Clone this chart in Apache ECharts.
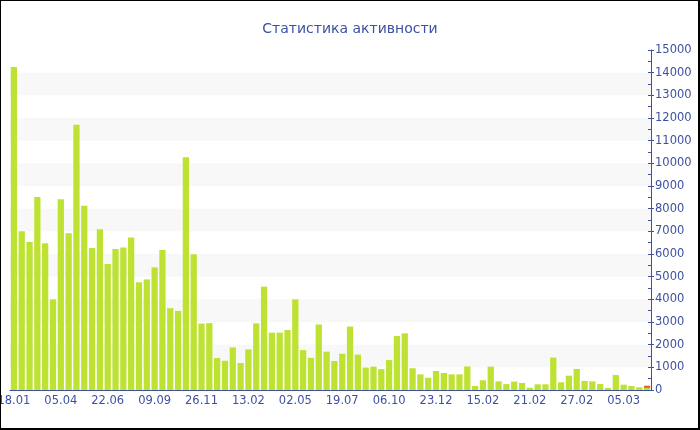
<!DOCTYPE html>
<html>
<head>
<meta charset="utf-8">
<script src="https://cdn.jsdelivr.net/npm/echarts@6/dist/echarts.min.js"></script>
<style>
html,body{margin:0;padding:0;background:#fff;}
#wrap{position:relative;width:700px;height:430px;}
#chart{position:absolute;left:0;top:0;width:700px;height:430px;}
#frame{position:absolute;left:0;top:0;width:700px;height:430px;box-sizing:border-box;border-style:solid;border-color:#000;border-width:1px 2px 2px 1px;pointer-events:none;}
</style>
</head>
<body>
<div id="wrap"><div id="chart"></div><div id="frame"></div></div>
<script>
const titleText = 'Статистика активности';
const categories = [
 '18.01','31.01','13.02','26.02','11.03','23.03','05.04','18.04','01.05','14.05',
 '27.05','09.06','22.06','05.07','18.07','31.07','13.08','27.08','09.09','22.09',
 '05.10','18.10','31.10','13.11','26.11','09.12','22.12','04.01','17.01','31.01',
 '13.02','26.02','11.03','24.03','06.04','19.04','02.05','15.05','28.05','10.06',
 '23.06','06.07','19.07','01.08','14.08','27.08','09.09','22.09','06.10','19.10',
 '01.11','14.11','27.11','10.12','23.12','01.01','10.01','19.01','28.01','06.02',
 '15.02','16.02','17.02','18.02','19.02','20.02','21.02','22.02','23.02','24.02',
 '25.02','26.02','27.02','28.02','01.03','02.03','03.03','04.03','05.03','06.03',
 '07.03','08.03'
];
const activity = [
 14250,7000,6530,8510,6470,4000,8410,6910,11700,8130,
 6270,7090,5560,6220,6290,6730,4750,4880,5410,6180,
 3610,3490,10270,5990,2930,2950,1410,1290,1880,1190,
 1790,2940,4560,2530,2530,2650,4000,1760,1420,2890,
 1690,1280,1600,2800,1560,990,1030,920,1320,2380,
 2500,960,690,540,840,750,690,690,1040,180,
 430,1030,380,260,370,310,100,250,250,1430,
 340,630,930,400,380,260,90,660,235,176,
 118,90
];
const todayExtra = 100;
const yTicks = {min:0, max:15000, interval:1000};

const blue = '#3d51a0';
const font = 'DejaVu Sans';
const todaySeries = categories.map((c,i)=> i===categories.length-1 ? todayExtra : '-');

const chart = echarts.init(document.getElementById('chart'), null, {renderer:'canvas'});
chart.setOption({
  animation:false,
  backgroundColor:'#fff',
  title:{text:titleText, left:'center', top:17,
    textStyle:{color:blue, fontFamily:font, fontSize:14, fontWeight:'normal'}},
  grid:{left:10, right:49, top:50, bottom:40, containLabel:false, outerBoundsMode:'none'},
  xAxis:{
    type:'category', data:categories, boundaryGap:true,
    axisLine:{lineStyle:{color:blue, width:1}},
    axisTick:{alignWithLabel:true, interval:5, length:3, lineStyle:{color:blue}},
    axisLabel:{interval:5, color:blue, fontFamily:font, fontSize:11.5, margin:5, hideOverlap:false}
  },
  yAxis:[{
    type:'value', position:'right', min:yTicks.min, max:yTicks.max, interval:yTicks.interval,
    axisLine:{show:true, lineStyle:{color:blue}},
    axisTick:{show:true, length:3, lineStyle:{color:blue}},
    axisLabel:{color:blue, fontFamily:font, fontSize:11.5, margin:4, formatter:(v)=>String(v)},
    splitLine:{show:false},
    splitArea:{show:true, areaStyle:{color:['rgba(255,255,255,0)','#f8f8f8']}}
  },{
    type:'value', position:'right', min:yTicks.min, max:yTicks.max, interval:yTicks.interval/2,
    axisLine:{show:false},
    axisTick:{show:true, inside:true, length:3, lineStyle:{color:blue}},
    axisLabel:{show:false}, splitLine:{show:false}
  }],
  series:[{
    type:'bar', stack:'a', data:activity, barCategoryGap:'20%',
    itemStyle:{color:'#bde232'}
  },{
    type:'bar', stack:'a', data:todaySeries,
    itemStyle:{color:'#e8632b'}
  }]
});
</script>
</body>
</html>
